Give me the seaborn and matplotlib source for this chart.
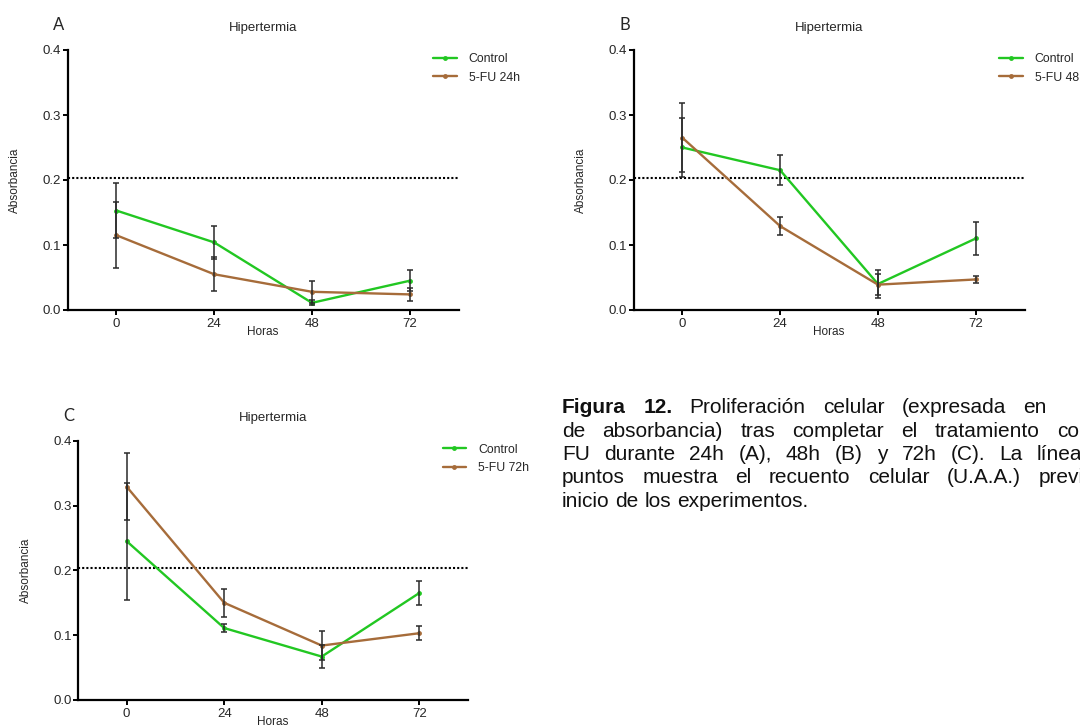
import matplotlib
matplotlib.use("Agg")
import matplotlib.pyplot as plt
import seaborn as sns
import pandas as pd

# ---------------- data ----------------
hours = [0, 24, 48, 72]
x_ticks = [0, 24, 48, 72]
y_ticks = [0.0, 0.1, 0.2, 0.3, 0.4]
baseline = 0.203  # pre-experiment cell count (dotted line)

control_A = [0.153, 0.104, 0.011, 0.045]
control_A_err = [0.043, 0.025, 0.004, 0.016]
fu24_A = [0.115, 0.055, 0.028, 0.024]
fu24_A_err = [0.051, 0.026, 0.017, 0.010]

control_B = [0.250, 0.215, 0.040, 0.110]
control_B_err = [0.045, 0.023, 0.022, 0.026]
fu48_B = [0.265, 0.129, 0.039, 0.047]
fu48_B_err = [0.053, 0.014, 0.016, 0.005]

control_C = [0.245, 0.111, 0.067, 0.165]
control_C_err = [0.090, 0.006, 0.018, 0.018]
fu72_C = [0.329, 0.150, 0.084, 0.103]
fu72_C_err = [0.052, 0.022, 0.022, 0.011]

panel_letters = ["A", "B", "C"]
treat_labels = ["5-FU 24h", "5-FU 48h", "5-FU 72h"]
title = "Hipertermia"
xlabel = "Horas"
ylabel = "Absorbancia"

caption_lines = [
    ["Figura", "12.", "Proliferación", "celular", "(expresada", "en"],
    ["de", "absorbancia)", "tras", "completar", "el", "tratamiento", "con"],
    ["FU", "durante", "24h", "(A),", "48h", "(B)", "y", "72h", "(C).", "La", "línea"],
    ["puntos", "muestra", "el", "recuento", "celular", "(U.A.A.)", "previo"],
    ["inicio", "de", "los", "experimentos."],
]
bold_words = {(0, 0), (0, 1)}

# ---------------- style ----------------
sns.set_theme(style="ticks")
plt.rcParams["font.family"] = ["Liberation Sans", "DejaVu Sans"]

GREEN = "#22c722"
BROWN = "#a66c3a"
ERR = "#2a2a2a"

W, H = 1080, 726
fig = plt.figure(figsize=(W / 100, H / 100), dpi=100)


def px_axes(left, top, right, bottom):
    return fig.add_axes([left / W, 1 - bottom / H, (right - left) / W, (bottom - top) / H])


axes_px = [
    (67.5, 50, 458.6, 310),
    (633.5, 50, 1024.6, 310),
    (77.9, 440.7, 468.0, 700),
]

panels = [
    (control_A, control_A_err, fu24_A, fu24_A_err),
    (control_B, control_B_err, fu48_B, fu48_B_err),
    (control_C, control_C_err, fu72_C, fu72_C_err),
]

for i, (ctrl, ctrl_e, fu, fu_e) in enumerate(panels):
    l, t, r, b = axes_px[i]
    ax = px_axes(l, t, r, b)
    df = pd.DataFrame({
        "Horas": hours * 2,
        "Absorbancia": ctrl + fu,
        "Grupo": ["Control"] * 4 + [treat_labels[i]] * 4,
    })
    sns.lineplot(data=df, x="Horas", y="Absorbancia", hue="Grupo",
                 palette=[GREEN, BROWN], marker="o", markersize=3.5,
                 markeredgewidth=0, linewidth=1.7, ax=ax, zorder=2)
    ax.errorbar(hours, ctrl, yerr=ctrl_e, fmt="none", ecolor=ERR,
                elinewidth=1.1, capsize=2.3, capthick=1.1, zorder=3)
    ax.errorbar(hours, fu, yerr=fu_e, fmt="none", ecolor=ERR,
                elinewidth=1.1, capsize=2.3, capthick=1.1, zorder=3)
    ax.axhline(baseline, color="black", linestyle=(0, (1, 1)), linewidth=1.5, zorder=1)

    ax.set_xlim(-12, 84)
    ax.set_ylim(0, 0.4)
    ax.set_xticks(x_ticks)
    ax.set_xticklabels([str(v) for v in x_ticks])
    ax.set_yticks(y_ticks)
    ax.set_yticklabels([f"{v:.1f}" for v in y_ticks])
    ax.tick_params(axis="y", length=3.5, width=1.4, pad=1, labelsize=9.5, color="black")
    ax.tick_params(axis="x", length=3.5, width=1.4, pad=2.5, labelsize=9.5, color="black")
    for s in ["top", "right"]:
        ax.spines[s].set_visible(False)
    for s in ["left", "bottom"]:
        ax.spines[s].set_linewidth(1.6)
        ax.spines[s].set_color("black")

    ax.set_xlabel(xlabel, fontsize=8.5)
    ax.xaxis.set_label_coords(0.5, -0.062)
    ax.set_ylabel(ylabel, fontsize=8.5)
    ax.yaxis.set_label_coords(-0.118, 0.5)
    ax.set_title(title, fontsize=9.5, pad=14)

    fig.text((l - 9.0) / W, 1 - (t - 19.5) / H, panel_letters[i],
             ha="center", va="baseline", fontsize=12, family=["Lato", "DejaVu Sans"])

    ax.legend(loc="upper left", bbox_to_anchor=(1 - 25.5 / (r - l), 1 - 3.0 / (b - t)),
              frameon=False, borderpad=0, borderaxespad=0,
              handlelength=1.95, handletextpad=0.95, labelspacing=0.55,
              fontsize=8.8, title=None)

# ---------------- caption (justified lines, clipped at right edge) ----------------
cap_fs = 15
x0 = 562
baselines = [413, 437, 460, 483, 507]
last_word_x = [1023.3, 1056.7, 1036.7, 1038.3, None]

renderer = fig.canvas.get_renderer()
m1 = fig.text(0, 0, "a b", fontsize=cap_fs)
m2 = fig.text(0, 0, "ab", fontsize=cap_fs)
space_w = m1.get_window_extent(renderer).width - m2.get_window_extent(renderer).width
m1.remove()
m2.remove()

for li, words in enumerate(caption_lines):
    arts = []
    for wi, w in enumerate(words):
        weight = "bold" if (li, wi) in bold_words else "normal"
        arts.append(fig.text(0, 1 - baselines[li] / H, w, fontsize=cap_fs,
                             fontweight=weight, ha="left", va="baseline", color="#111111"))
    widths = [a.get_window_extent(renderer).width for a in arts]
    if last_word_x[li] is None:
        gap = space_w
    else:
        gap = (last_word_x[li] - x0 - sum(widths[:-1])) / (len(words) - 1)
    x = x0
    for a, wdt in zip(arts, widths):
        a.set_x(x / W)
        x += wdt + gap

fig.savefig("out.png", dpi=100)
